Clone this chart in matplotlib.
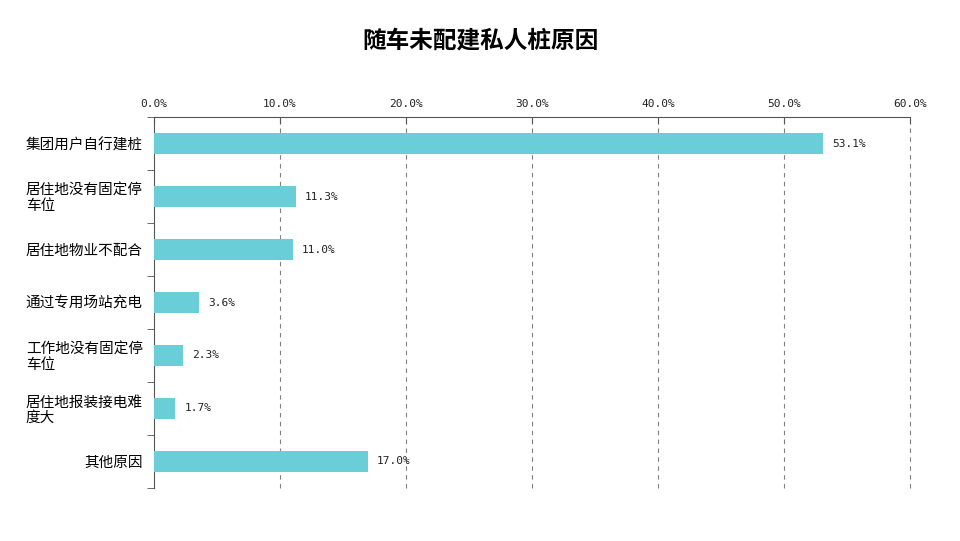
import numpy as np
import matplotlib.pyplot as plt
from matplotlib.ticker import FixedLocator

plt.rcParams['font.family'] = ['Noto Sans CJK SC', 'DejaVu Sans']

title = '随车未配建私人桩原因'
categories = ['集团用户自行建桩', '居住地没有固定停\n车位', '居住地物业不配合', '通过专用场站充电',
              '工作地没有固定停\n车位', '居住地报装接电难\n度大', '其他原因']
values = [53.1, 11.3, 11.0, 3.6, 2.3, 1.7, 17.0]
xticks = [0, 10, 20, 30, 40, 50, 60]

bar_color = '#6ACED9'

fig = plt.figure(figsize=(9.6, 5.41), dpi=100)
ax = fig.add_axes([0.1604, 0.098, 0.7875, 0.6857])

y = np.arange(len(categories))
ax.barh(y, values, height=0.38, color=bar_color, zorder=3)

for yi, v in zip(y, values):
    ax.text(v + 0.7, yi, f'{v:.1f}%', va='center', ha='left',
            fontsize=8, family='DejaVu Sans Mono', color='#222222')

ax.set_xlim(0, 60)
ax.set_ylim(len(categories) - 0.5, -0.5)

ax.xaxis.tick_top()
ax.set_xticks(xticks)
ax.set_xticklabels([f'{t:.1f}%' for t in xticks], family='DejaVu Sans Mono', fontsize=8, color='#222222')
ax.tick_params(axis='x', direction='in', length=5, color='#555555', pad=6)

# dashed vertical gridlines, including the one at the right edge
for t in xticks[1:]:
    ax.axvline(t, linestyle=(0, (4, 4)), color='#808080', linewidth=0.8, zorder=0, clip_on=False)

ax.set_yticks(y)
ax.set_yticklabels(categories, fontsize=10.5, ha='right', multialignment='left', linespacing=1.1)
ax.tick_params(axis='y', length=0, pad=8)
ax.yaxis.set_minor_locator(FixedLocator(np.arange(-0.5, len(categories) + 0.5, 1)))
ax.tick_params(axis='y', which='minor', length=5, direction='out', color='#555555')

for s in ['right', 'bottom']:
    ax.spines[s].set_visible(False)
ax.spines['left'].set_color('#555555')
ax.spines['top'].set_color('#555555')

fig.text(0.5, 0.925, title, ha='center', va='center', fontsize=17, fontweight='bold')

fig.savefig('out.png', dpi=100)
